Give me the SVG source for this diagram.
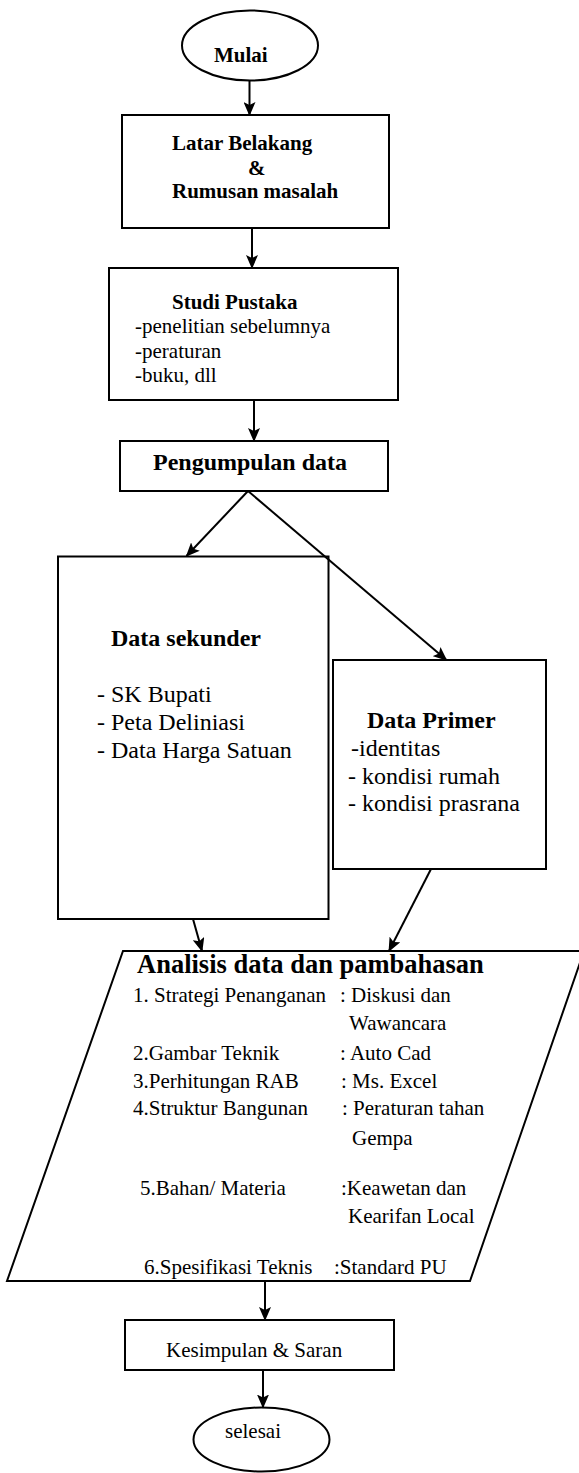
<svg xmlns="http://www.w3.org/2000/svg" width="579" height="1473" viewBox="0 0 579 1473">
<style>
.shape{fill:#fff;stroke:#000;stroke-width:2}
.conn{fill:none;stroke:#000;stroke-width:2}
text{font-family:'Liberation Serif','Times New Roman',Tinos,'DejaVu Serif',serif;fill:#000}
.b{font-weight:bold}
</style>
<defs>
<marker id="ah" markerUnits="userSpaceOnUse" markerWidth="14" markerHeight="12" viewBox="0 0 14 12" refX="13" refY="6" orient="auto">
<path d="M0,0 L14,6 L0,12 L3,6 Z" fill="#000"/>
</marker>
</defs>
<rect width="579" height="1473" fill="#fff"/>
<g id="mulai">
<ellipse class="shape" cx="250" cy="45.5" rx="68" ry="35"/>
<text class="b" x="214" y="62" font-size="21" font-family="Liberation Serif, serif">Mulai</text>
</g>
<g id="latar">
<rect class="shape" x="122" y="115" width="267" height="113"/>
<text class="b" x="172" y="150" font-size="21">Latar Belakang</text>
<text class="b" x="248" y="175" font-size="21">&amp;</text>
<text class="b" x="172" y="198" font-size="21">Rumusan masalah</text>
</g>
<g id="studi">
<rect class="shape" x="109" y="268" width="289" height="132"/>
<text class="b" x="172" y="309" font-size="21">Studi Pustaka</text>
<text x="135" y="333" font-size="21">-penelitian sebelumnya</text>
<text x="135" y="358" font-size="21">-peraturan</text>
<text x="135" y="382" font-size="21">-buku, dll</text>
</g>
<g id="pengumpulan">
<rect class="shape" x="120" y="441" width="268" height="50"/>
<text class="b" x="153" y="470" font-size="24">Pengumpulan data</text>
</g>
<g id="sekunder">
<rect class="shape" x="58" y="556.5" width="270.5" height="362.5"/>
<text class="b" x="111" y="646" font-size="24">Data sekunder</text>
<text x="97" y="702" font-size="24">- SK Bupati</text>
<text x="97" y="730" font-size="24">- Peta Deliniasi</text>
<text x="97" y="758" font-size="24">- Data Harga Satuan</text>
</g>
<g id="primer">
<rect class="shape" x="333" y="660" width="213" height="209"/>
<text class="b" x="367" y="728" font-size="24">Data Primer</text>
<text x="351" y="756" font-size="24">-identitas</text>
<text x="348" y="784" font-size="24">- kondisi rumah</text>
<text x="348" y="811" font-size="24">- kondisi prasrana</text>
</g>
<g id="analisis">
<path class="shape" d="M123,951 L584,951 L470,1281 L7,1281 Z"/>
<text class="b" x="137" y="973" font-size="26.5">Analisis data dan pambahasan</text>
<text x="133" y="1001.5" font-size="21">1. Strategi Penanganan</text>
<text x="340" y="1001.5" font-size="21">: Diskusi dan</text>
<text x="349" y="1030" font-size="21">Wawancara</text>
<text x="133" y="1060" font-size="21">2.Gambar Teknik</text>
<text x="340" y="1060" font-size="21">: Auto Cad</text>
<text x="133" y="1088" font-size="21">3.Perhitungan RAB</text>
<text x="341" y="1088" font-size="21">: Ms. Excel</text>
<text x="133" y="1115" font-size="21">4.Struktur Bangunan</text>
<text x="342" y="1115" font-size="21">: Peraturan tahan</text>
<text x="352" y="1145" font-size="21">Gempa</text>
<text x="140" y="1195" font-size="21">5.Bahan/ Materia</text>
<text x="341" y="1195" font-size="21">:Keawetan dan</text>
<text x="348" y="1223" font-size="21">Kearifan Local</text>
<text x="144" y="1274" font-size="21">6.Spesifikasi Teknis</text>
<text x="334" y="1274" font-size="21">:Standard PU</text>
</g>
<g id="kesimpulan">
<rect class="shape" x="125" y="1320" width="269" height="50"/>
<text x="166" y="1356.5" font-size="21">Kesimpulan &amp; Saran</text>
</g>
<g id="selesai">
<ellipse class="shape" cx="261.5" cy="1439.5" rx="68" ry="32"/>
<text x="225" y="1438" font-size="21">selesai</text>
</g>
<g id="connectors">
<path class="conn" d="M249.5,80.5 L249.5,115" marker-end="url(#ah)"/>
<path class="conn" d="M252,228 L252,268" marker-end="url(#ah)"/>
<path class="conn" d="M254,400 L254,441" marker-end="url(#ah)"/>
<path class="conn" d="M248,491 L186.5,556" marker-end="url(#ah)"/>
<path class="conn" d="M248,491 L446.5,660" marker-end="url(#ah)"/>
<path class="conn" d="M193,919 L202,951" marker-end="url(#ah)"/>
<path class="conn" d="M431,869 L389,951" marker-end="url(#ah)"/>
<path class="conn" d="M265,1281 L265,1320" marker-end="url(#ah)"/>
<path class="conn" d="M263,1370 L263,1407.5" marker-end="url(#ah)"/>
</g>
</svg>
